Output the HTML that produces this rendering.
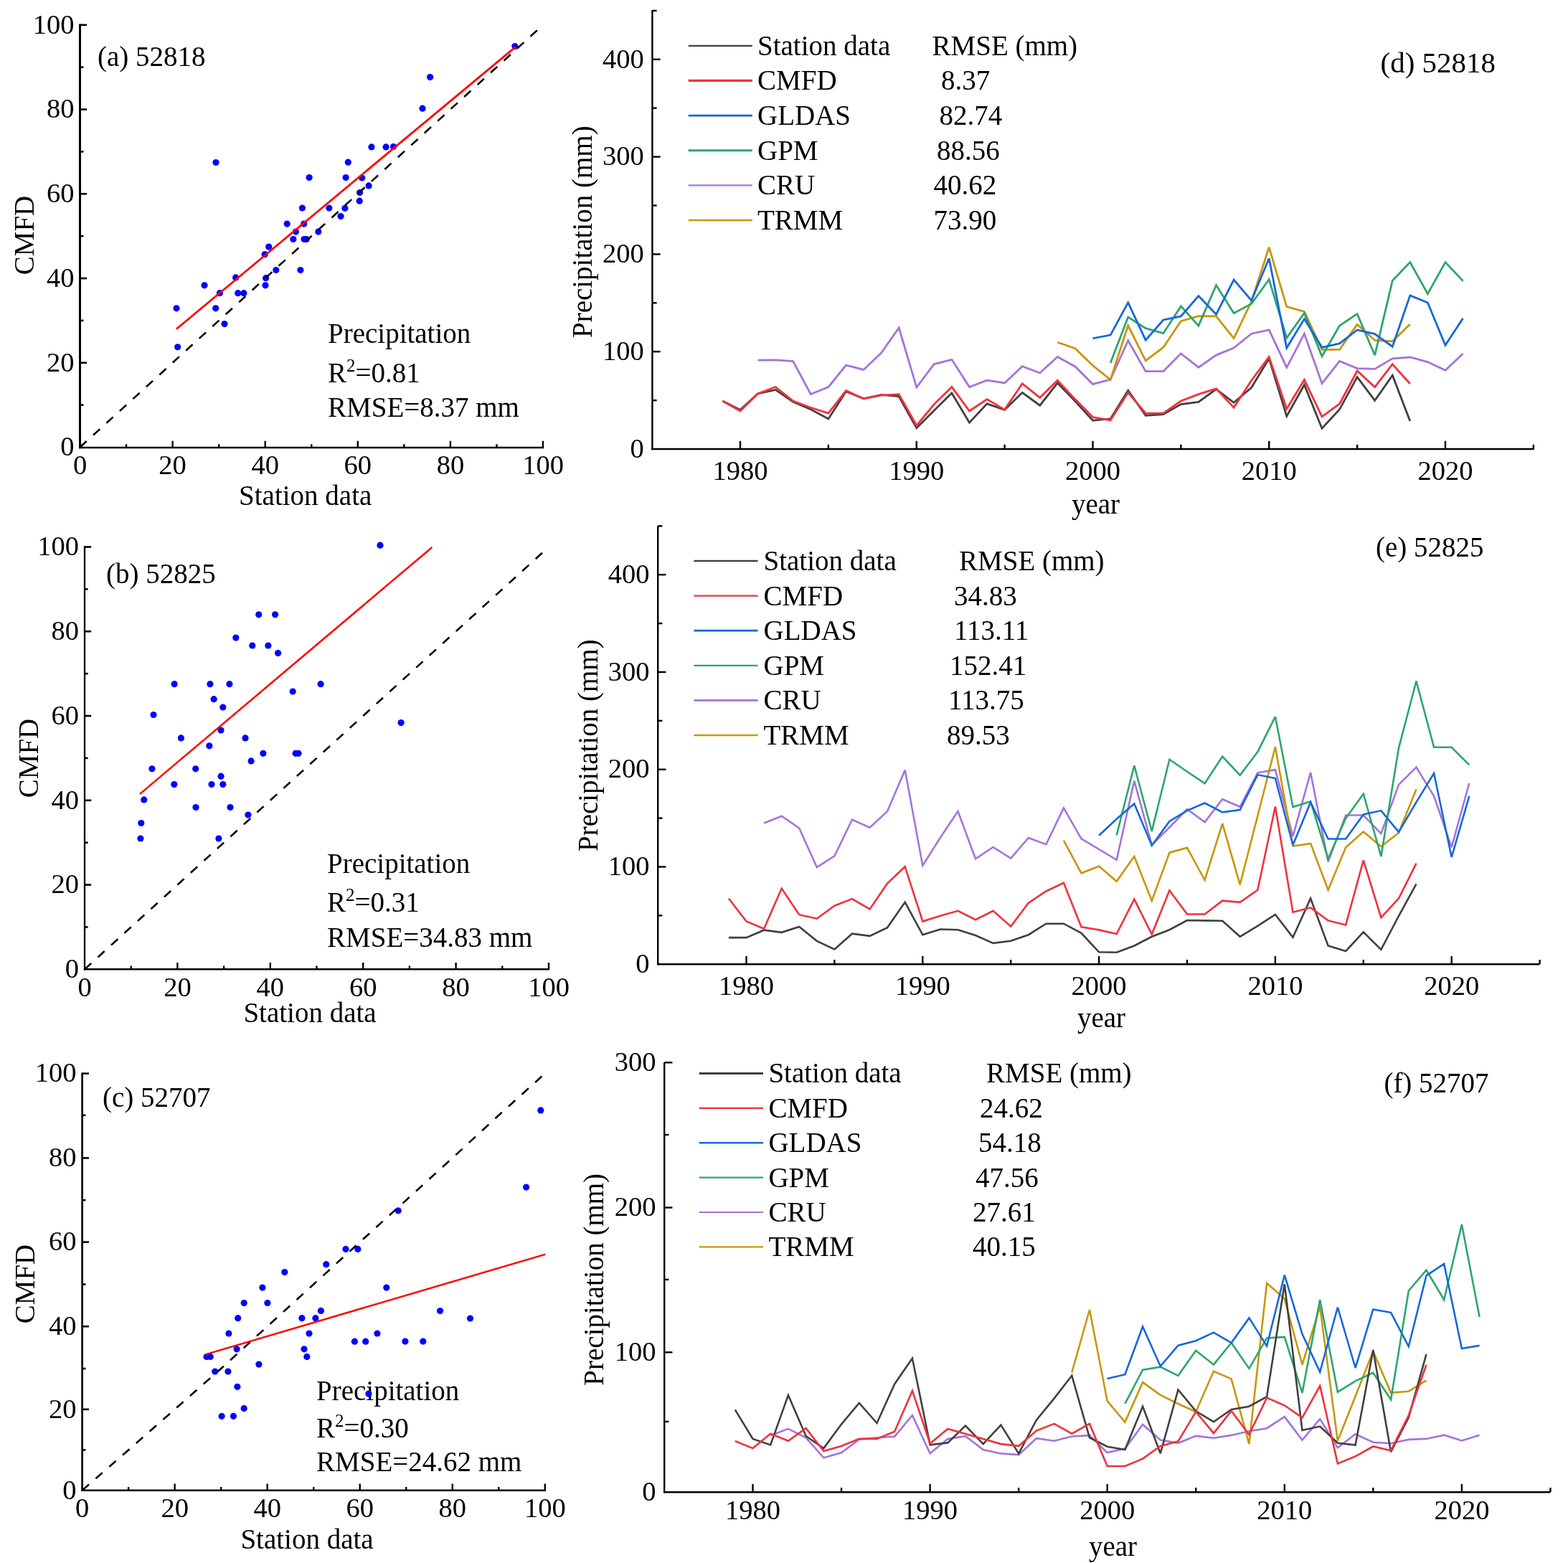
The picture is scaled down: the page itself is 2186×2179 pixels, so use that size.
<!DOCTYPE html>
<html><head><meta charset="utf-8"><title>Precipitation comparison</title>
<style>html,body{margin:0;padding:0;background:#fff;}svg{display:block;}
text{font-family:'Liberation Serif','Times New Roman',serif;fill:#000;}</style></head>
<body><svg xmlns="http://www.w3.org/2000/svg" width="2186" height="2179" viewBox="0 0 2186 2179">
<rect width="2186" height="2179" fill="#fff"/>
<line x1="111.50" y1="33.60" x2="111.50" y2="625.30" stroke="#000" stroke-width="3.0" />
<line x1="110.00" y1="624.00" x2="758.00" y2="624.00" stroke="#000" stroke-width="2.6" />
<line x1="111.50" y1="564.63" x2="116.50" y2="564.63" stroke="#000" stroke-width="2.6" />
<line x1="176.05" y1="624.00" x2="176.05" y2="619.20" stroke="#000" stroke-width="2.4" />
<line x1="111.50" y1="505.76" x2="121.00" y2="505.76" stroke="#000" stroke-width="2.6" />
<line x1="240.60" y1="624.00" x2="240.60" y2="614.70" stroke="#000" stroke-width="2.4" />
<line x1="111.50" y1="446.89" x2="116.50" y2="446.89" stroke="#000" stroke-width="2.6" />
<line x1="305.15" y1="624.00" x2="305.15" y2="619.20" stroke="#000" stroke-width="2.4" />
<line x1="111.50" y1="388.02" x2="121.00" y2="388.02" stroke="#000" stroke-width="2.6" />
<line x1="369.70" y1="624.00" x2="369.70" y2="614.70" stroke="#000" stroke-width="2.4" />
<line x1="111.50" y1="329.15" x2="116.50" y2="329.15" stroke="#000" stroke-width="2.6" />
<line x1="434.25" y1="624.00" x2="434.25" y2="619.20" stroke="#000" stroke-width="2.4" />
<line x1="111.50" y1="270.28" x2="121.00" y2="270.28" stroke="#000" stroke-width="2.6" />
<line x1="498.80" y1="624.00" x2="498.80" y2="614.70" stroke="#000" stroke-width="2.4" />
<line x1="111.50" y1="211.41" x2="116.50" y2="211.41" stroke="#000" stroke-width="2.6" />
<line x1="563.35" y1="624.00" x2="563.35" y2="619.20" stroke="#000" stroke-width="2.4" />
<line x1="111.50" y1="152.54" x2="121.00" y2="152.54" stroke="#000" stroke-width="2.6" />
<line x1="627.90" y1="624.00" x2="627.90" y2="614.70" stroke="#000" stroke-width="2.4" />
<line x1="111.50" y1="93.67" x2="116.50" y2="93.67" stroke="#000" stroke-width="2.6" />
<line x1="692.45" y1="624.00" x2="692.45" y2="619.20" stroke="#000" stroke-width="2.4" />
<line x1="111.50" y1="34.80" x2="121.00" y2="34.80" stroke="#000" stroke-width="2.6" />
<line x1="757.00" y1="624.00" x2="757.00" y2="614.70" stroke="#000" stroke-width="2.4" />
<text x="103.50" y="635.30" font-size="38.5" text-anchor="end" >0</text>
<text x="111.50" y="661.30" font-size="38.5" text-anchor="middle" >0</text>
<text x="103.50" y="517.56" font-size="38.5" text-anchor="end" >20</text>
<text x="240.60" y="661.30" font-size="38.5" text-anchor="middle" >20</text>
<text x="103.50" y="399.82" font-size="38.5" text-anchor="end" >40</text>
<text x="369.70" y="661.30" font-size="38.5" text-anchor="middle" >40</text>
<text x="103.50" y="282.08" font-size="38.5" text-anchor="end" >60</text>
<text x="498.80" y="661.30" font-size="38.5" text-anchor="middle" >60</text>
<text x="103.50" y="164.34" font-size="38.5" text-anchor="end" >80</text>
<text x="627.90" y="661.30" font-size="38.5" text-anchor="middle" >80</text>
<text x="103.50" y="46.60" font-size="38.5" text-anchor="end" >100</text>
<text x="757.00" y="661.30" font-size="38.5" text-anchor="middle" >100</text>
<text x="136.00" y="91.50" font-size="39" text-anchor="start" >(a) 52818</text>
<text x="457.00" y="478.30" font-size="39" text-anchor="start" >Precipitation</text>
<text x="457.00" y="532.70" font-size="39" text-anchor="start" >R<tspan font-size="25" dy="-15">2</tspan><tspan dy="15">=0.81</tspan></text>
<text x="457.00" y="581.20" font-size="39" text-anchor="start" >RMSE=8.37 mm</text>
<text x="425.70" y="703.90" font-size="39" text-anchor="middle" >Station data</text>
<text x="0" y="0" font-size="39" text-anchor="middle" transform="translate(46.5,328) rotate(-90)">CMFD</text>
<circle cx="246.0" cy="429.8" r="4.6" fill="#0000FF"/>
<circle cx="247.7" cy="483.8" r="4.6" fill="#0000FF"/>
<circle cx="285.0" cy="397.8" r="4.6" fill="#0000FF"/>
<circle cx="301.0" cy="226.5" r="4.6" fill="#0000FF"/>
<circle cx="300.7" cy="429.8" r="4.6" fill="#0000FF"/>
<circle cx="306.4" cy="408.7" r="4.6" fill="#0000FF"/>
<circle cx="313.0" cy="451.6" r="4.6" fill="#0000FF"/>
<circle cx="328.6" cy="386.9" r="4.6" fill="#0000FF"/>
<circle cx="331.7" cy="408.7" r="4.6" fill="#0000FF"/>
<circle cx="339.9" cy="408.7" r="4.6" fill="#0000FF"/>
<circle cx="369.1" cy="354.7" r="4.6" fill="#0000FF"/>
<circle cx="370.6" cy="387.7" r="4.6" fill="#0000FF"/>
<circle cx="370.0" cy="397.8" r="4.6" fill="#0000FF"/>
<circle cx="374.7" cy="344.1" r="4.6" fill="#0000FF"/>
<circle cx="384.8" cy="376.5" r="4.6" fill="#0000FF"/>
<circle cx="400.2" cy="312.1" r="4.6" fill="#0000FF"/>
<circle cx="408.9" cy="333.5" r="4.6" fill="#0000FF"/>
<circle cx="412.4" cy="323.1" r="4.6" fill="#0000FF"/>
<circle cx="418.9" cy="376.5" r="4.6" fill="#0000FF"/>
<circle cx="421.4" cy="290.0" r="4.6" fill="#0000FF"/>
<circle cx="423.7" cy="312.1" r="4.6" fill="#0000FF"/>
<circle cx="424.0" cy="333.5" r="4.6" fill="#0000FF"/>
<circle cx="427.2" cy="333.5" r="4.6" fill="#0000FF"/>
<circle cx="431.1" cy="247.5" r="4.6" fill="#0000FF"/>
<circle cx="443.8" cy="323.1" r="4.6" fill="#0000FF"/>
<circle cx="458.8" cy="290.0" r="4.6" fill="#0000FF"/>
<circle cx="475.0" cy="301.6" r="4.6" fill="#0000FF"/>
<circle cx="480.9" cy="290.3" r="4.6" fill="#0000FF"/>
<circle cx="482.1" cy="247.5" r="4.6" fill="#0000FF"/>
<circle cx="485.3" cy="226.2" r="4.6" fill="#0000FF"/>
<circle cx="501.2" cy="280.2" r="4.6" fill="#0000FF"/>
<circle cx="501.6" cy="268.5" r="4.6" fill="#0000FF"/>
<circle cx="504.7" cy="248.0" r="4.6" fill="#0000FF"/>
<circle cx="514.1" cy="258.9" r="4.6" fill="#0000FF"/>
<circle cx="517.9" cy="204.9" r="4.6" fill="#0000FF"/>
<circle cx="538.1" cy="204.9" r="4.6" fill="#0000FF"/>
<circle cx="548.5" cy="204.5" r="4.6" fill="#0000FF"/>
<circle cx="589.0" cy="151.2" r="4.6" fill="#0000FF"/>
<circle cx="599.6" cy="107.6" r="4.6" fill="#0000FF"/>
<circle cx="717.9" cy="64.6" r="4.6" fill="#0000FF"/>
<polyline points="111.50,623.50 176.05,564.63 240.60,505.76 305.15,446.89 369.70,388.02 434.25,329.15 498.80,270.28 563.35,211.41 627.90,152.54 692.45,93.67 757.00,34.80" fill="none" stroke="#000" stroke-width="2.6" stroke-dasharray="12.5 12.5"/>
<line x1="246.00" y1="458.60" x2="718.50" y2="65.60" stroke="#FF0000" stroke-width="2.8" />
<line x1="118.00" y1="761.30" x2="118.00" y2="1352.60" stroke="#000" stroke-width="2.3" />
<line x1="116.85" y1="1351.30" x2="766.00" y2="1351.30" stroke="#000" stroke-width="2.6" />
<line x1="118.00" y1="1292.42" x2="122.65" y2="1292.42" stroke="#000" stroke-width="2.6" />
<line x1="182.70" y1="1351.30" x2="182.70" y2="1346.50" stroke="#000" stroke-width="2.4" />
<line x1="118.00" y1="1233.54" x2="127.15" y2="1233.54" stroke="#000" stroke-width="2.6" />
<line x1="247.40" y1="1351.30" x2="247.40" y2="1342.00" stroke="#000" stroke-width="2.4" />
<line x1="118.00" y1="1174.66" x2="122.65" y2="1174.66" stroke="#000" stroke-width="2.6" />
<line x1="312.10" y1="1351.30" x2="312.10" y2="1346.50" stroke="#000" stroke-width="2.4" />
<line x1="118.00" y1="1115.78" x2="127.15" y2="1115.78" stroke="#000" stroke-width="2.6" />
<line x1="376.80" y1="1351.30" x2="376.80" y2="1342.00" stroke="#000" stroke-width="2.4" />
<line x1="118.00" y1="1056.90" x2="122.65" y2="1056.90" stroke="#000" stroke-width="2.6" />
<line x1="441.50" y1="1351.30" x2="441.50" y2="1346.50" stroke="#000" stroke-width="2.4" />
<line x1="118.00" y1="998.02" x2="127.15" y2="998.02" stroke="#000" stroke-width="2.6" />
<line x1="506.20" y1="1351.30" x2="506.20" y2="1342.00" stroke="#000" stroke-width="2.4" />
<line x1="118.00" y1="939.14" x2="122.65" y2="939.14" stroke="#000" stroke-width="2.6" />
<line x1="570.90" y1="1351.30" x2="570.90" y2="1346.50" stroke="#000" stroke-width="2.4" />
<line x1="118.00" y1="880.26" x2="127.15" y2="880.26" stroke="#000" stroke-width="2.6" />
<line x1="635.60" y1="1351.30" x2="635.60" y2="1342.00" stroke="#000" stroke-width="2.4" />
<line x1="118.00" y1="821.38" x2="122.65" y2="821.38" stroke="#000" stroke-width="2.6" />
<line x1="700.30" y1="1351.30" x2="700.30" y2="1346.50" stroke="#000" stroke-width="2.4" />
<line x1="118.00" y1="762.50" x2="127.15" y2="762.50" stroke="#000" stroke-width="2.6" />
<line x1="765.00" y1="1351.30" x2="765.00" y2="1342.00" stroke="#000" stroke-width="2.4" />
<text x="110.00" y="1363.10" font-size="38.5" text-anchor="end" >0</text>
<text x="118.00" y="1388.50" font-size="38.5" text-anchor="middle" >0</text>
<text x="110.00" y="1245.34" font-size="38.5" text-anchor="end" >20</text>
<text x="247.40" y="1388.50" font-size="38.5" text-anchor="middle" >20</text>
<text x="110.00" y="1127.58" font-size="38.5" text-anchor="end" >40</text>
<text x="376.80" y="1388.50" font-size="38.5" text-anchor="middle" >40</text>
<text x="110.00" y="1009.82" font-size="38.5" text-anchor="end" >60</text>
<text x="506.20" y="1388.50" font-size="38.5" text-anchor="middle" >60</text>
<text x="110.00" y="892.06" font-size="38.5" text-anchor="end" >80</text>
<text x="635.60" y="1388.50" font-size="38.5" text-anchor="middle" >80</text>
<text x="110.00" y="774.30" font-size="38.5" text-anchor="end" >100</text>
<text x="765.00" y="1388.50" font-size="38.5" text-anchor="middle" >100</text>
<text x="148.00" y="813.00" font-size="39" text-anchor="start" >(b) 52825</text>
<text x="456.00" y="1217.00" font-size="39" text-anchor="start" >Precipitation</text>
<text x="456.00" y="1270.80" font-size="39" text-anchor="start" >R<tspan font-size="25" dy="-15">2</tspan><tspan dy="15">=0.31</tspan></text>
<text x="456.00" y="1320.40" font-size="39" text-anchor="start" >RMSE=34.83 mm</text>
<text x="432.00" y="1425.00" font-size="39" text-anchor="middle" >Station data</text>
<text x="0" y="0" font-size="39" text-anchor="middle" transform="translate(52.5,1057) rotate(-90)">CMFD</text>
<circle cx="360.7" cy="856.8" r="4.6" fill="#0000FF"/>
<circle cx="383.6" cy="856.8" r="4.6" fill="#0000FF"/>
<circle cx="328.8" cy="889.1" r="4.6" fill="#0000FF"/>
<circle cx="351.8" cy="900.0" r="4.6" fill="#0000FF"/>
<circle cx="373.9" cy="900.0" r="4.6" fill="#0000FF"/>
<circle cx="387.6" cy="910.6" r="4.6" fill="#0000FF"/>
<circle cx="243.1" cy="953.7" r="4.6" fill="#0000FF"/>
<circle cx="292.9" cy="953.7" r="4.6" fill="#0000FF"/>
<circle cx="319.9" cy="953.7" r="4.6" fill="#0000FF"/>
<circle cx="447.1" cy="953.7" r="4.6" fill="#0000FF"/>
<circle cx="408.2" cy="964.1" r="4.6" fill="#0000FF"/>
<circle cx="298.1" cy="974.7" r="4.6" fill="#0000FF"/>
<circle cx="310.8" cy="986.0" r="4.6" fill="#0000FF"/>
<circle cx="214.0" cy="996.5" r="4.6" fill="#0000FF"/>
<circle cx="308.0" cy="1018.0" r="4.6" fill="#0000FF"/>
<circle cx="252.4" cy="1028.9" r="4.6" fill="#0000FF"/>
<circle cx="342.0" cy="1028.9" r="4.6" fill="#0000FF"/>
<circle cx="291.8" cy="1039.8" r="4.6" fill="#0000FF"/>
<circle cx="366.9" cy="1050.3" r="4.6" fill="#0000FF"/>
<circle cx="412.1" cy="1050.3" r="4.6" fill="#0000FF"/>
<circle cx="416.0" cy="1050.3" r="4.6" fill="#0000FF"/>
<circle cx="350.1" cy="1060.9" r="4.6" fill="#0000FF"/>
<circle cx="211.9" cy="1071.8" r="4.6" fill="#0000FF"/>
<circle cx="272.7" cy="1071.8" r="4.6" fill="#0000FF"/>
<circle cx="308.0" cy="1082.2" r="4.6" fill="#0000FF"/>
<circle cx="242.8" cy="1093.6" r="4.6" fill="#0000FF"/>
<circle cx="295.0" cy="1093.6" r="4.6" fill="#0000FF"/>
<circle cx="310.8" cy="1093.6" r="4.6" fill="#0000FF"/>
<circle cx="200.7" cy="1114.9" r="4.6" fill="#0000FF"/>
<circle cx="273.0" cy="1125.5" r="4.6" fill="#0000FF"/>
<circle cx="321.0" cy="1125.5" r="4.6" fill="#0000FF"/>
<circle cx="345.9" cy="1136.0" r="4.6" fill="#0000FF"/>
<circle cx="196.8" cy="1147.5" r="4.6" fill="#0000FF"/>
<circle cx="195.9" cy="1169.0" r="4.6" fill="#0000FF"/>
<circle cx="304.9" cy="1169.0" r="4.6" fill="#0000FF"/>
<circle cx="530.0" cy="760.2" r="4.6" fill="#0000FF"/>
<circle cx="559.1" cy="1007.6" r="4.6" fill="#0000FF"/>
<polyline points="118.00,1351.30 182.70,1292.42 247.40,1233.54 312.10,1174.66 376.80,1115.78 441.50,1056.90 506.20,998.02 570.90,939.14 635.60,880.26 700.30,821.38 765.00,762.50" fill="none" stroke="#000" stroke-width="2.6" stroke-dasharray="12.5 12.5"/>
<line x1="194.80" y1="1107.10" x2="602.40" y2="763.00" stroke="#FF0000" stroke-width="2.5" />
<line x1="114.60" y1="1495.40" x2="114.60" y2="2079.10" stroke="#000" stroke-width="2.7" />
<line x1="113.25" y1="2077.80" x2="761.00" y2="2077.80" stroke="#000" stroke-width="2.6" />
<line x1="114.60" y1="2021.40" x2="119.45" y2="2021.40" stroke="#000" stroke-width="2.6" />
<line x1="179.12" y1="2077.80" x2="179.12" y2="2073.00" stroke="#000" stroke-width="2.4" />
<line x1="114.60" y1="1964.80" x2="123.95" y2="1964.80" stroke="#000" stroke-width="2.6" />
<line x1="243.64" y1="2077.80" x2="243.64" y2="2068.50" stroke="#000" stroke-width="2.4" />
<line x1="114.60" y1="1908.00" x2="119.45" y2="1908.00" stroke="#000" stroke-width="2.6" />
<line x1="308.16" y1="2077.80" x2="308.16" y2="2073.00" stroke="#000" stroke-width="2.4" />
<line x1="114.60" y1="1849.20" x2="123.95" y2="1849.20" stroke="#000" stroke-width="2.6" />
<line x1="372.68" y1="2077.80" x2="372.68" y2="2068.50" stroke="#000" stroke-width="2.4" />
<line x1="114.60" y1="1790.50" x2="119.45" y2="1790.50" stroke="#000" stroke-width="2.6" />
<line x1="437.20" y1="2077.80" x2="437.20" y2="2073.00" stroke="#000" stroke-width="2.4" />
<line x1="114.60" y1="1731.60" x2="123.95" y2="1731.60" stroke="#000" stroke-width="2.6" />
<line x1="501.72" y1="2077.80" x2="501.72" y2="2068.50" stroke="#000" stroke-width="2.4" />
<line x1="114.60" y1="1673.10" x2="119.45" y2="1673.10" stroke="#000" stroke-width="2.6" />
<line x1="566.24" y1="2077.80" x2="566.24" y2="2073.00" stroke="#000" stroke-width="2.4" />
<line x1="114.60" y1="1614.40" x2="123.95" y2="1614.40" stroke="#000" stroke-width="2.6" />
<line x1="630.76" y1="2077.80" x2="630.76" y2="2068.50" stroke="#000" stroke-width="2.4" />
<line x1="114.60" y1="1554.80" x2="119.45" y2="1554.80" stroke="#000" stroke-width="2.6" />
<line x1="695.28" y1="2077.80" x2="695.28" y2="2073.00" stroke="#000" stroke-width="2.4" />
<line x1="114.60" y1="1496.60" x2="123.95" y2="1496.60" stroke="#000" stroke-width="2.6" />
<line x1="759.80" y1="2077.80" x2="759.80" y2="2068.50" stroke="#000" stroke-width="2.4" />
<text x="106.50" y="2089.60" font-size="38.5" text-anchor="end" >0</text>
<text x="114.60" y="2114.50" font-size="38.5" text-anchor="middle" >0</text>
<text x="106.50" y="1976.60" font-size="38.5" text-anchor="end" >20</text>
<text x="243.64" y="2114.50" font-size="38.5" text-anchor="middle" >20</text>
<text x="106.50" y="1861.00" font-size="38.5" text-anchor="end" >40</text>
<text x="372.68" y="2114.50" font-size="38.5" text-anchor="middle" >40</text>
<text x="106.50" y="1743.40" font-size="38.5" text-anchor="end" >60</text>
<text x="501.72" y="2114.50" font-size="38.5" text-anchor="middle" >60</text>
<text x="106.50" y="1626.20" font-size="38.5" text-anchor="end" >80</text>
<text x="630.76" y="2114.50" font-size="38.5" text-anchor="middle" >80</text>
<text x="106.50" y="1508.40" font-size="38.5" text-anchor="end" >100</text>
<text x="759.80" y="2114.50" font-size="38.5" text-anchor="middle" >100</text>
<text x="143.00" y="1543.00" font-size="39" text-anchor="start" >(c) 52707</text>
<text x="441.00" y="1952.00" font-size="39" text-anchor="start" >Precipitation</text>
<text x="441.00" y="2003.80" font-size="39" text-anchor="start" >R<tspan font-size="25" dy="-15">2</tspan><tspan dy="15">=0.30</tspan></text>
<text x="441.00" y="2051.30" font-size="39" text-anchor="start" >RMSE=24.62 mm</text>
<text x="428.00" y="2158.50" font-size="39" text-anchor="middle" >Station data</text>
<text x="0" y="0" font-size="39" text-anchor="middle" transform="translate(48.4,1790) rotate(-90)">CMFD</text>
<circle cx="482.0" cy="1741.4" r="4.6" fill="#0000FF"/>
<circle cx="498.8" cy="1741.4" r="4.6" fill="#0000FF"/>
<circle cx="454.7" cy="1762.7" r="4.6" fill="#0000FF"/>
<circle cx="396.8" cy="1773.6" r="4.6" fill="#0000FF"/>
<circle cx="365.9" cy="1795.1" r="4.6" fill="#0000FF"/>
<circle cx="538.8" cy="1795.1" r="4.6" fill="#0000FF"/>
<circle cx="340.2" cy="1816.5" r="4.6" fill="#0000FF"/>
<circle cx="372.9" cy="1816.5" r="4.6" fill="#0000FF"/>
<circle cx="447.4" cy="1827.4" r="4.6" fill="#0000FF"/>
<circle cx="331.7" cy="1837.7" r="4.6" fill="#0000FF"/>
<circle cx="420.9" cy="1837.7" r="4.6" fill="#0000FF"/>
<circle cx="439.9" cy="1837.7" r="4.6" fill="#0000FF"/>
<circle cx="318.9" cy="1859.0" r="4.6" fill="#0000FF"/>
<circle cx="431.0" cy="1859.0" r="4.6" fill="#0000FF"/>
<circle cx="525.9" cy="1859.0" r="4.6" fill="#0000FF"/>
<circle cx="494.4" cy="1870.2" r="4.6" fill="#0000FF"/>
<circle cx="509.7" cy="1870.2" r="4.6" fill="#0000FF"/>
<circle cx="330.1" cy="1880.8" r="4.6" fill="#0000FF"/>
<circle cx="424.0" cy="1880.8" r="4.6" fill="#0000FF"/>
<circle cx="288.0" cy="1891.4" r="4.6" fill="#0000FF"/>
<circle cx="293.2" cy="1891.4" r="4.6" fill="#0000FF"/>
<circle cx="427.9" cy="1891.4" r="4.6" fill="#0000FF"/>
<circle cx="360.9" cy="1902.1" r="4.6" fill="#0000FF"/>
<circle cx="299.7" cy="1912.0" r="4.6" fill="#0000FF"/>
<circle cx="317.9" cy="1912.0" r="4.6" fill="#0000FF"/>
<circle cx="330.9" cy="1933.3" r="4.6" fill="#0000FF"/>
<circle cx="513.9" cy="1943.1" r="4.6" fill="#0000FF"/>
<circle cx="340.2" cy="1963.4" r="4.6" fill="#0000FF"/>
<circle cx="309.1" cy="1974.3" r="4.6" fill="#0000FF"/>
<circle cx="325.4" cy="1974.3" r="4.6" fill="#0000FF"/>
<circle cx="753.8" cy="1547.9" r="4.6" fill="#0000FF"/>
<circle cx="733.6" cy="1655.1" r="4.6" fill="#0000FF"/>
<circle cx="555.2" cy="1687.8" r="4.6" fill="#0000FF"/>
<circle cx="613.5" cy="1827.6" r="4.6" fill="#0000FF"/>
<circle cx="655.5" cy="1838.0" r="4.6" fill="#0000FF"/>
<circle cx="564.9" cy="1870.1" r="4.6" fill="#0000FF"/>
<circle cx="589.8" cy="1870.1" r="4.6" fill="#0000FF"/>
<polyline points="114.60,2077.80 179.12,2021.40 243.64,1964.80 308.16,1908.00 372.68,1849.20 437.20,1790.50 501.72,1731.60 566.24,1673.10 630.76,1614.40 695.28,1554.80 759.80,1496.60" fill="none" stroke="#000" stroke-width="2.6" stroke-dasharray="12.5 12.5"/>
<line x1="286.20" y1="1888.40" x2="760.40" y2="1748.60" stroke="#FF0000" stroke-width="2.5" />
<line x1="909.40" y1="14.30" x2="909.40" y2="627.15" stroke="#000" stroke-width="2.4" />
<line x1="908.20" y1="626.00" x2="2138.60" y2="626.00" stroke="#000" stroke-width="2.4" />
<text x="897.80" y="637.70" font-size="38.5" text-anchor="end" >0</text>
<line x1="909.40" y1="558.10" x2="915.60" y2="558.10" stroke="#000" stroke-width="2.4" />
<line x1="909.40" y1="490.20" x2="920.60" y2="490.20" stroke="#000" stroke-width="2.4" />
<text x="897.80" y="501.90" font-size="38.5" text-anchor="end" >100</text>
<line x1="909.40" y1="422.30" x2="915.60" y2="422.30" stroke="#000" stroke-width="2.4" />
<line x1="909.40" y1="354.40" x2="920.60" y2="354.40" stroke="#000" stroke-width="2.4" />
<text x="897.80" y="366.10" font-size="38.5" text-anchor="end" >200</text>
<line x1="909.40" y1="286.50" x2="915.60" y2="286.50" stroke="#000" stroke-width="2.4" />
<line x1="909.40" y1="218.60" x2="920.60" y2="218.60" stroke="#000" stroke-width="2.4" />
<text x="897.80" y="230.30" font-size="38.5" text-anchor="end" >300</text>
<line x1="909.40" y1="150.70" x2="915.60" y2="150.70" stroke="#000" stroke-width="2.4" />
<line x1="909.40" y1="82.80" x2="920.60" y2="82.80" stroke="#000" stroke-width="2.4" />
<text x="897.80" y="94.50" font-size="38.5" text-anchor="end" >400</text>
<line x1="909.40" y1="14.90" x2="915.60" y2="14.90" stroke="#000" stroke-width="2.4" />
<line x1="1032.00" y1="626.00" x2="1032.00" y2="614.80" stroke="#000" stroke-width="2.4" />
<text x="1032.00" y="669.00" font-size="38.5" text-anchor="middle" >1980</text>
<line x1="1154.88" y1="626.00" x2="1154.88" y2="619.80" stroke="#000" stroke-width="2.4" />
<line x1="1277.75" y1="626.00" x2="1277.75" y2="614.80" stroke="#000" stroke-width="2.4" />
<text x="1277.75" y="669.00" font-size="38.5" text-anchor="middle" >1990</text>
<line x1="1400.62" y1="626.00" x2="1400.62" y2="619.80" stroke="#000" stroke-width="2.4" />
<line x1="1523.50" y1="626.00" x2="1523.50" y2="614.80" stroke="#000" stroke-width="2.4" />
<text x="1523.50" y="669.00" font-size="38.5" text-anchor="middle" >2000</text>
<line x1="1646.38" y1="626.00" x2="1646.38" y2="619.80" stroke="#000" stroke-width="2.4" />
<line x1="1769.25" y1="626.00" x2="1769.25" y2="614.80" stroke="#000" stroke-width="2.4" />
<text x="1769.25" y="669.00" font-size="38.5" text-anchor="middle" >2010</text>
<line x1="1892.12" y1="626.00" x2="1892.12" y2="619.80" stroke="#000" stroke-width="2.4" />
<line x1="2015.00" y1="626.00" x2="2015.00" y2="614.80" stroke="#000" stroke-width="2.4" />
<text x="2015.00" y="669.00" font-size="38.5" text-anchor="middle" >2020</text>
<line x1="2137.88" y1="626.00" x2="2137.88" y2="619.80" stroke="#000" stroke-width="2.4" />
<polyline points="1056.6,502.1 1081.2,501.8 1105.7,503.7 1130.3,549.6 1154.9,539.5 1179.5,509.1 1204.0,515.4 1228.6,492.0 1253.2,457.0 1277.8,540.0 1302.3,507.6 1326.9,501.3 1351.5,539.5 1376.0,530.2 1400.6,534.0 1425.2,510.7 1449.8,520.0 1474.3,497.4 1498.9,511.0 1523.5,535.6 1548.1,529.1 1572.7,474.9 1597.2,517.7 1621.8,517.7 1646.4,492.8 1670.9,512.2 1695.5,495.1 1720.1,485.0 1744.7,465.2 1769.2,459.8 1793.8,512.4 1818.4,465.2 1843.0,534.6 1867.5,503.5 1892.1,513.6 1916.7,514.4 1941.3,499.9 1965.8,498.0 1990.4,504.6 2015.0,516.3 2039.6,492.9" fill="none" stroke="#A474D8" stroke-width="2.8" stroke-linejoin="miter" stroke-miterlimit="3"/>
<polyline points="1474.3,477.2 1498.9,485.8 1523.5,509.5 1548.1,529.4 1572.7,453.8 1597.2,502.9 1621.8,484.2 1646.4,447.6 1670.9,440.6 1695.5,440.9 1720.1,471.7 1744.7,420.3 1769.2,344.7 1793.8,427.5 1818.4,434.5 1843.0,487.4 1867.5,487.4 1892.1,452.1 1916.7,474.5 1941.3,475.8 1965.8,452.1" fill="none" stroke="#C8960A" stroke-width="2.8" stroke-linejoin="miter" stroke-miterlimit="3"/>
<polyline points="1548.1,506.0 1572.7,442.1 1597.2,457.7 1621.8,464.7 1646.4,426.9 1670.9,454.1 1695.5,397.4 1720.1,436.7 1744.7,423.5 1769.2,389.5 1793.8,471.1 1818.4,436.5 1843.0,496.8 1867.5,454.0 1892.1,437.6 1916.7,495.2 1941.3,391.3 1965.8,365.5 1990.4,409.6 2015.0,365.5 2039.6,391.7" fill="none" stroke="#2CA66C" stroke-width="2.8" stroke-linejoin="miter" stroke-miterlimit="3"/>
<polyline points="1523.5,471.7 1548.1,467.1 1572.7,421.9 1597.2,474.1 1621.8,446.0 1646.4,440.9 1670.9,412.6 1695.5,438.3 1720.1,390.0 1744.7,418.8 1769.2,360.3 1793.8,485.1 1818.4,444.6 1843.0,484.3 1867.5,478.9 1892.1,459.9 1916.7,465.6 1941.3,483.2 1965.8,411.9 1990.4,422.0 2015.0,481.2 2039.6,443.8" fill="none" stroke="#1667DC" stroke-width="2.8" stroke-linejoin="miter" stroke-miterlimit="3"/>
<polyline points="1007.4,559.0 1032.0,571.4 1056.6,548.8 1081.2,543.4 1105.7,560.2 1130.3,570.7 1154.9,583.9 1179.5,545.7 1204.0,555.9 1228.6,550.4 1253.2,552.7 1277.8,596.8 1302.3,572.2 1326.9,548.1 1351.5,589.3 1376.0,562.9 1400.6,571.4 1425.2,547.3 1449.8,565.2 1474.3,534.0 1498.9,559.4 1523.5,586.2 1548.1,583.9 1572.7,544.2 1597.2,579.2 1621.8,577.7 1646.4,563.6 1670.9,560.5 1695.5,542.6 1720.1,561.3 1744.7,540.3 1769.2,499.8 1793.8,580.1 1818.4,536.5 1843.0,597.3 1867.5,570.8 1892.1,525.6 1916.7,558.3 1941.3,523.3 1965.8,587.1" fill="none" stroke="#404040" stroke-width="2.8" stroke-linejoin="miter" stroke-miterlimit="3"/>
<polyline points="1007.4,559.0 1032.0,573.0 1056.6,548.8 1081.2,539.5 1105.7,559.0 1130.3,568.3 1154.9,576.1 1179.5,544.6 1204.0,555.9 1228.6,551.2 1253.2,549.6 1277.8,593.2 1302.3,563.6 1326.9,539.5 1351.5,573.0 1376.0,556.6 1400.6,571.1 1425.2,534.8 1449.8,554.3 1474.3,530.2 1498.9,556.6 1523.5,581.6 1548.1,586.0 1572.7,547.3 1597.2,576.1 1621.8,576.1 1646.4,559.0 1670.9,549.6 1695.5,541.8 1720.1,568.3 1744.7,530.2 1769.2,497.5 1793.8,570.0 1818.4,529.5 1843.0,580.9 1867.5,563.0 1892.1,517.0 1916.7,539.6 1941.3,507.7 1965.8,535.0" fill="none" stroke="#F0323C" stroke-width="2.8" stroke-linejoin="miter" stroke-miterlimit="3"/>
<line x1="959.70" y1="63.80" x2="1048.80" y2="63.80" stroke="#404040" stroke-width="2.3" />
<text x="1056.00" y="76.80" font-size="39" text-anchor="start" >Station data</text>
<text x="1299.50" y="76.80" font-size="39" text-anchor="start" >RMSE (mm)</text>
<line x1="959.70" y1="112.45" x2="1048.80" y2="112.45" stroke="#F0323C" stroke-width="3.2" />
<text x="1056.00" y="125.45" font-size="39" text-anchor="start" >CMFD</text>
<text x="1312.00" y="125.45" font-size="39" text-anchor="start" >8.37</text>
<line x1="959.70" y1="161.10" x2="1048.80" y2="161.10" stroke="#1667DC" stroke-width="2.6" />
<text x="1056.00" y="174.10" font-size="39" text-anchor="start" >GLDAS</text>
<text x="1309.50" y="174.10" font-size="39" text-anchor="start" >82.74</text>
<line x1="959.70" y1="209.75" x2="1048.80" y2="209.75" stroke="#2CA66C" stroke-width="2.8" />
<text x="1056.00" y="222.75" font-size="39" text-anchor="start" >GPM</text>
<text x="1306.00" y="222.75" font-size="39" text-anchor="start" >88.56</text>
<line x1="959.70" y1="258.40" x2="1048.80" y2="258.40" stroke="#A474D8" stroke-width="2.3" />
<text x="1056.00" y="271.40" font-size="39" text-anchor="start" >CRU</text>
<text x="1301.50" y="271.40" font-size="39" text-anchor="start" >40.62</text>
<line x1="959.70" y1="307.05" x2="1048.80" y2="307.05" stroke="#C8960A" stroke-width="2.6" />
<text x="1056.00" y="320.05" font-size="39" text-anchor="start" >TRMM</text>
<text x="1301.50" y="320.05" font-size="39" text-anchor="start" >73.90</text>
<text x="1924.50" y="100.70" font-size="41" text-anchor="start" >(d) 52818</text>
<line x1="917.20" y1="733.20" x2="917.20" y2="1345.35" stroke="#000" stroke-width="2.4" />
<line x1="916.00" y1="1344.20" x2="2146.50" y2="1344.20" stroke="#000" stroke-width="2.4" />
<text x="905.50" y="1355.90" font-size="38.5" text-anchor="end" >0</text>
<line x1="917.20" y1="1276.33" x2="923.40" y2="1276.33" stroke="#000" stroke-width="2.4" />
<line x1="917.20" y1="1208.45" x2="928.40" y2="1208.45" stroke="#000" stroke-width="2.4" />
<text x="905.50" y="1220.15" font-size="38.5" text-anchor="end" >100</text>
<line x1="917.20" y1="1140.58" x2="923.40" y2="1140.58" stroke="#000" stroke-width="2.4" />
<line x1="917.20" y1="1072.70" x2="928.40" y2="1072.70" stroke="#000" stroke-width="2.4" />
<text x="905.50" y="1084.40" font-size="38.5" text-anchor="end" >200</text>
<line x1="917.20" y1="1004.83" x2="923.40" y2="1004.83" stroke="#000" stroke-width="2.4" />
<line x1="917.20" y1="936.95" x2="928.40" y2="936.95" stroke="#000" stroke-width="2.4" />
<text x="905.50" y="948.65" font-size="38.5" text-anchor="end" >300</text>
<line x1="917.20" y1="869.08" x2="923.40" y2="869.08" stroke="#000" stroke-width="2.4" />
<line x1="917.20" y1="801.20" x2="928.40" y2="801.20" stroke="#000" stroke-width="2.4" />
<text x="905.50" y="812.90" font-size="38.5" text-anchor="end" >400</text>
<line x1="917.20" y1="733.33" x2="923.40" y2="733.33" stroke="#000" stroke-width="2.4" />
<line x1="1040.50" y1="1344.20" x2="1040.50" y2="1333.00" stroke="#000" stroke-width="2.4" />
<text x="1040.50" y="1387.00" font-size="38.5" text-anchor="middle" >1980</text>
<line x1="1163.40" y1="1344.20" x2="1163.40" y2="1338.00" stroke="#000" stroke-width="2.4" />
<line x1="1286.30" y1="1344.20" x2="1286.30" y2="1333.00" stroke="#000" stroke-width="2.4" />
<text x="1286.30" y="1387.00" font-size="38.5" text-anchor="middle" >1990</text>
<line x1="1409.20" y1="1344.20" x2="1409.20" y2="1338.00" stroke="#000" stroke-width="2.4" />
<line x1="1532.10" y1="1344.20" x2="1532.10" y2="1333.00" stroke="#000" stroke-width="2.4" />
<text x="1532.10" y="1387.00" font-size="38.5" text-anchor="middle" >2000</text>
<line x1="1655.00" y1="1344.20" x2="1655.00" y2="1338.00" stroke="#000" stroke-width="2.4" />
<line x1="1777.90" y1="1344.20" x2="1777.90" y2="1333.00" stroke="#000" stroke-width="2.4" />
<text x="1777.90" y="1387.00" font-size="38.5" text-anchor="middle" >2010</text>
<line x1="1900.80" y1="1344.20" x2="1900.80" y2="1338.00" stroke="#000" stroke-width="2.4" />
<line x1="2023.70" y1="1344.20" x2="2023.70" y2="1333.00" stroke="#000" stroke-width="2.4" />
<text x="2023.70" y="1387.00" font-size="38.5" text-anchor="middle" >2020</text>
<line x1="2146.60" y1="1344.20" x2="2146.60" y2="1338.00" stroke="#000" stroke-width="2.4" />
<polyline points="1065.1,1147.5 1089.7,1137.8 1114.2,1154.5 1138.8,1209.0 1163.4,1193.4 1188.0,1142.8 1212.6,1153.7 1237.1,1131.1 1261.7,1073.5 1286.3,1206.7 1310.9,1167.7 1335.5,1131.1 1360.0,1197.3 1384.6,1181.0 1409.2,1196.5 1433.8,1168.0 1458.4,1177.1 1482.9,1126.4 1507.5,1169.3 1532.1,1184.0 1556.7,1198.8 1581.3,1088.6 1605.8,1178.0 1630.4,1153.5 1655.0,1128.0 1679.6,1146.1 1704.2,1114.2 1728.7,1124.8 1753.3,1077.3 1777.9,1073.1 1802.5,1165.8 1827.1,1076.9 1851.6,1201.4 1876.2,1136.5 1900.8,1136.5 1925.4,1162.1 1950.0,1093.9 1974.5,1069.5 1999.1,1109.9 2023.7,1181.2 2048.3,1091.8" fill="none" stroke="#A474D8" stroke-width="2.6" stroke-linejoin="miter" stroke-miterlimit="3"/>
<polyline points="1482.9,1171.6 1507.5,1217.3 1532.1,1207.6 1556.7,1228.8 1581.3,1194.0 1605.8,1255.7 1630.4,1188.7 1655.0,1181.9 1679.6,1227.0 1704.2,1148.2 1728.7,1233.4 1753.3,1137.6 1777.9,1041.2 1802.5,1179.5 1827.1,1175.9 1851.6,1240.8 1876.2,1181.2 1900.8,1159.5 1925.4,1180.2 1950.0,1161.0 1974.5,1100.3" fill="none" stroke="#C8960A" stroke-width="2.6" stroke-linejoin="miter" stroke-miterlimit="3"/>
<polyline points="1556.7,1164.4 1581.3,1067.3 1605.8,1158.9 1630.4,1058.8 1655.0,1075.8 1679.6,1092.2 1704.2,1054.5 1728.7,1080.7 1753.3,1048.2 1777.9,999.2 1802.5,1125.1 1827.1,1117.4 1851.6,1197.2 1876.2,1140.8 1900.8,1106.7 1925.4,1194.0 1950.0,1042.8 1974.5,949.6 1999.1,1041.8 2023.7,1041.8 2048.3,1066.3" fill="none" stroke="#2CA66C" stroke-width="2.6" stroke-linejoin="miter" stroke-miterlimit="3"/>
<polyline points="1532.1,1164.7 1556.7,1141.8 1581.3,1120.5 1605.8,1178.7 1630.4,1145.0 1655.0,1130.1 1679.6,1119.5 1704.2,1132.3 1728.7,1129.1 1753.3,1080.1 1777.9,1085.0 1802.5,1178.0 1827.1,1118.4 1851.6,1169.5 1876.2,1169.5 1900.8,1135.5 1925.4,1130.1 1950.0,1159.9 1974.5,1118.4 1999.1,1078.0 2023.7,1195.1 2048.3,1109.9" fill="none" stroke="#1667DC" stroke-width="2.6" stroke-linejoin="miter" stroke-miterlimit="3"/>
<polyline points="1015.9,1307.1 1040.5,1307.1 1065.1,1296.7 1089.7,1299.8 1114.2,1292.0 1138.8,1311.8 1163.4,1323.5 1188.0,1301.7 1212.6,1304.8 1237.1,1293.1 1261.7,1257.8 1286.3,1303.2 1310.9,1295.5 1335.5,1296.2 1360.0,1304.0 1384.6,1314.9 1409.2,1311.8 1433.8,1303.2 1458.4,1287.7 1482.9,1287.7 1507.5,1300.9 1532.1,1327.3 1556.7,1327.8 1581.3,1318.5 1605.8,1305.8 1630.4,1296.2 1655.0,1283.0 1679.6,1283.4 1704.2,1283.8 1728.7,1305.8 1753.3,1290.9 1777.9,1274.9 1802.5,1306.8 1827.1,1252.5 1851.6,1318.5 1876.2,1326.0 1900.8,1299.4 1925.4,1323.9 1950.0,1277.0 1974.5,1232.3" fill="none" stroke="#404040" stroke-width="2.6" stroke-linejoin="miter" stroke-miterlimit="3"/>
<polyline points="1015.9,1252.6 1040.5,1284.5 1065.1,1294.7 1089.7,1238.6 1114.2,1275.2 1138.8,1280.7 1163.4,1262.7 1188.0,1253.1 1212.6,1267.4 1237.1,1231.6 1261.7,1208.2 1286.3,1284.5 1310.9,1276.8 1335.5,1269.8 1360.0,1282.2 1384.6,1269.8 1409.2,1291.6 1433.8,1258.8 1458.4,1242.5 1482.9,1230.8 1507.5,1292.3 1532.1,1296.4 1556.7,1302.0 1581.3,1253.6 1605.8,1302.6 1630.4,1241.3 1655.0,1274.5 1679.6,1274.5 1704.2,1255.7 1728.7,1257.9 1753.3,1240.8 1777.9,1124.5 1802.5,1271.7 1827.1,1265.3 1851.6,1283.4 1876.2,1289.4 1900.8,1199.3 1925.4,1279.2 1950.0,1252.5 1974.5,1203.6" fill="none" stroke="#F0323C" stroke-width="2.6" stroke-linejoin="miter" stroke-miterlimit="3"/>
<line x1="967.40" y1="782.00" x2="1056.50" y2="782.00" stroke="#404040" stroke-width="2.4" />
<text x="1064.50" y="795.00" font-size="39" text-anchor="start" >Station data</text>
<text x="1337.00" y="795.00" font-size="39" text-anchor="start" >RMSE (mm)</text>
<line x1="967.40" y1="830.60" x2="1056.50" y2="830.60" stroke="#F0323C" stroke-width="2.3" />
<text x="1064.50" y="843.60" font-size="39" text-anchor="start" >CMFD</text>
<text x="1330.00" y="843.60" font-size="39" text-anchor="start" >34.83</text>
<line x1="967.40" y1="879.20" x2="1056.50" y2="879.20" stroke="#1667DC" stroke-width="2.8" />
<text x="1064.50" y="892.20" font-size="39" text-anchor="start" >GLDAS</text>
<text x="1330.00" y="892.20" font-size="39" text-anchor="start" >113.11</text>
<line x1="967.40" y1="927.80" x2="1056.50" y2="927.80" stroke="#2CA66C" stroke-width="2.3" />
<text x="1064.50" y="940.80" font-size="39" text-anchor="start" >GPM</text>
<text x="1324.00" y="940.80" font-size="39" text-anchor="start" >152.41</text>
<line x1="967.40" y1="976.40" x2="1056.50" y2="976.40" stroke="#A474D8" stroke-width="2.8" />
<text x="1064.50" y="989.40" font-size="39" text-anchor="start" >CRU</text>
<text x="1322.00" y="989.40" font-size="39" text-anchor="start" >113.75</text>
<line x1="967.40" y1="1025.00" x2="1056.50" y2="1025.00" stroke="#C8960A" stroke-width="2.4" />
<text x="1064.50" y="1038.00" font-size="39" text-anchor="start" >TRMM</text>
<text x="1320.00" y="1038.00" font-size="39" text-anchor="start" >89.53</text>
<text x="1918.00" y="775.50" font-size="39" text-anchor="start" >(e) 52825</text>
<line x1="926.20" y1="1481.30" x2="926.20" y2="2081.35" stroke="#000" stroke-width="2.4" />
<line x1="925.00" y1="2080.20" x2="2161.20" y2="2080.20" stroke="#000" stroke-width="2.4" />
<text x="914.50" y="2091.90" font-size="38.5" text-anchor="end" >0</text>
<line x1="926.20" y1="1981.90" x2="932.40" y2="1981.90" stroke="#000" stroke-width="2.4" />
<line x1="926.20" y1="1885.30" x2="937.40" y2="1885.30" stroke="#000" stroke-width="2.4" />
<text x="914.50" y="1897.00" font-size="38.5" text-anchor="end" >100</text>
<line x1="926.20" y1="1783.90" x2="932.40" y2="1783.90" stroke="#000" stroke-width="2.4" />
<line x1="926.20" y1="1683.50" x2="937.40" y2="1683.50" stroke="#000" stroke-width="2.4" />
<text x="914.50" y="1695.20" font-size="38.5" text-anchor="end" >200</text>
<line x1="926.20" y1="1582.00" x2="932.40" y2="1582.00" stroke="#000" stroke-width="2.4" />
<line x1="926.20" y1="1481.30" x2="937.40" y2="1481.30" stroke="#000" stroke-width="2.4" />
<text x="914.50" y="1493.00" font-size="38.5" text-anchor="end" >300</text>
<line x1="1049.50" y1="2080.20" x2="1049.50" y2="2069.00" stroke="#000" stroke-width="2.4" />
<text x="1049.50" y="2118.00" font-size="38.5" text-anchor="middle" >1980</text>
<line x1="1173.05" y1="2080.20" x2="1173.05" y2="2074.00" stroke="#000" stroke-width="2.4" />
<line x1="1296.60" y1="2080.20" x2="1296.60" y2="2069.00" stroke="#000" stroke-width="2.4" />
<text x="1296.60" y="2118.00" font-size="38.5" text-anchor="middle" >1990</text>
<line x1="1420.15" y1="2080.20" x2="1420.15" y2="2074.00" stroke="#000" stroke-width="2.4" />
<line x1="1543.70" y1="2080.20" x2="1543.70" y2="2069.00" stroke="#000" stroke-width="2.4" />
<text x="1543.70" y="2118.00" font-size="38.5" text-anchor="middle" >2000</text>
<line x1="1667.25" y1="2080.20" x2="1667.25" y2="2074.00" stroke="#000" stroke-width="2.4" />
<line x1="1790.80" y1="2080.20" x2="1790.80" y2="2069.00" stroke="#000" stroke-width="2.4" />
<text x="1790.80" y="2118.00" font-size="38.5" text-anchor="middle" >2010</text>
<line x1="1914.35" y1="2080.20" x2="1914.35" y2="2074.00" stroke="#000" stroke-width="2.4" />
<line x1="2037.90" y1="2080.20" x2="2037.90" y2="2069.00" stroke="#000" stroke-width="2.4" />
<text x="2037.90" y="2118.00" font-size="38.5" text-anchor="middle" >2020</text>
<line x1="2161.45" y1="2080.20" x2="2161.45" y2="2074.00" stroke="#000" stroke-width="2.4" />
<polyline points="1074.2,2001.2 1098.9,1991.8 1123.6,2004.3 1148.3,2032.3 1173.0,2025.3 1197.8,2006.6 1222.5,2004.3 1247.2,2002.7 1271.9,1973.1 1296.6,2026.2 1321.3,2006.1 1346.0,2002.2 1370.7,2021.1 1395.4,2026.4 1420.2,2028.1 1444.9,2005.2 1469.6,2008.7 1494.3,2002.5 1519.0,2001.1 1543.7,2025.1 1568.4,2019.5 1593.1,1986.0 1617.8,2007.5 1642.5,2011.8 1667.2,2001.9 1692.0,2004.7 1716.7,2000.9 1741.4,1995.3 1766.1,1991.2 1790.8,1975.1 1815.5,2007.6 1840.2,1978.1 1864.9,2018.4 1889.6,1999.2 1914.3,2010.7 1939.1,2012.3 1963.8,2006.9 1988.5,2005.9 2013.2,2000.7 2037.9,2008.4 2062.6,2000.7" fill="none" stroke="#A474D8" stroke-width="2.6" stroke-linejoin="miter" stroke-miterlimit="3"/>
<polyline points="1494.3,1913.4 1519.0,1826.0 1543.7,1953.2 1568.4,1982.6 1593.1,1927.1 1617.8,1944.9 1642.5,1957.0 1667.2,1968.2 1692.0,1911.6 1716.7,1922.4 1741.4,2013.1 1766.1,1788.8 1790.8,1810.6 1815.5,1902.5 1840.2,1821.6 1864.9,2008.8 1889.6,1946.4 1914.3,1884.0 1939.1,1941.6 1963.8,1939.7 1988.5,1924.3" fill="none" stroke="#C8960A" stroke-width="2.6" stroke-linejoin="miter" stroke-miterlimit="3"/>
<polyline points="1568.4,1956.8 1593.1,1909.7 1617.8,1905.6 1642.5,1917.8 1667.2,1882.8 1692.0,1902.4 1716.7,1872.0 1741.4,1907.9 1766.1,1865.4 1790.8,1863.9 1815.5,1941.8 1840.2,1812.0 1864.9,1940.6 1889.6,1925.3 1914.3,1913.7 1939.1,1951.2 1963.8,1799.5 1988.5,1770.7 2013.2,1812.0 2037.9,1706.9 2062.6,1836.0" fill="none" stroke="#2CA66C" stroke-width="2.6" stroke-linejoin="miter" stroke-miterlimit="3"/>
<polyline points="1543.7,1922.1 1568.4,1916.2 1593.1,1849.5 1617.8,1904.7 1642.5,1875.7 1667.2,1869.2 1692.0,1857.6 1716.7,1872.0 1741.4,1837.4 1766.1,1876.6 1790.8,1777.5 1815.5,1859.9 1840.2,1912.8 1864.9,1822.5 1889.6,1907.0 1914.3,1825.4 1939.1,1829.8 1963.8,1877.2 1988.5,1778.3 2013.2,1762.0 2037.9,1880.1 2062.6,1875.9" fill="none" stroke="#1667DC" stroke-width="2.6" stroke-linejoin="miter" stroke-miterlimit="3"/>
<polyline points="1024.8,1965.4 1049.5,2005.9 1074.2,2014.4 1098.9,1945.1 1123.6,2002.0 1148.3,2019.1 1173.0,1985.6 1197.8,1956.0 1222.5,1984.0 1247.2,1929.5 1271.9,1893.7 1296.6,2014.2 1321.3,2011.4 1346.0,1987.5 1370.7,2013.1 1395.4,1986.6 1420.2,2026.4 1444.9,1979.6 1469.6,1949.6 1494.3,1917.8 1519.0,2004.3 1543.7,2016.7 1568.4,2021.1 1593.1,1960.7 1617.8,2026.2 1642.5,1937.4 1667.2,1967.3 1692.0,1982.2 1716.7,1965.0 1741.4,1960.7 1766.1,1947.1 1790.8,1790.3 1815.5,1993.9 1840.2,1988.6 1864.9,2011.7 1889.6,2014.6 1914.3,1882.0 1939.1,2024.2 1963.8,1976.2 1988.5,1887.8" fill="none" stroke="#404040" stroke-width="2.6" stroke-linejoin="miter" stroke-miterlimit="3"/>
<polyline points="1024.8,2009.0 1049.5,2019.1 1074.2,1998.8 1098.9,2008.7 1123.6,1991.1 1148.3,2023.0 1173.0,2016.0 1197.8,2005.9 1222.5,2005.9 1247.2,1995.7 1271.9,1938.9 1296.6,2012.5 1321.3,1991.9 1346.0,1999.0 1370.7,2006.1 1395.4,2013.1 1420.2,2015.8 1444.9,1994.6 1469.6,1984.9 1494.3,1998.7 1519.0,1984.9 1543.7,2044.0 1568.4,2044.0 1593.1,2033.6 1617.8,2015.9 1642.5,2009.3 1667.2,1968.2 1692.0,1998.1 1716.7,1966.9 1741.4,2000.0 1766.1,1948.6 1790.8,1959.3 1815.5,1976.4 1840.2,1932.0 1864.9,2040.5 1889.6,2030.3 1914.3,2016.5 1939.1,2022.2 1963.8,1973.3 1988.5,1902.8" fill="none" stroke="#F0323C" stroke-width="2.6" stroke-linejoin="miter" stroke-miterlimit="3"/>
<line x1="974.70" y1="1496.40" x2="1064.00" y2="1496.40" stroke="#404040" stroke-width="3.0" />
<text x="1071.40" y="1509.40" font-size="39" text-anchor="start" >Station data</text>
<text x="1375.00" y="1509.40" font-size="39" text-anchor="start" >RMSE (mm)</text>
<line x1="974.70" y1="1544.80" x2="1064.00" y2="1544.80" stroke="#F0323C" stroke-width="2.3" />
<text x="1071.40" y="1557.80" font-size="39" text-anchor="start" >CMFD</text>
<text x="1366.00" y="1557.80" font-size="39" text-anchor="start" >24.62</text>
<line x1="974.70" y1="1593.20" x2="1064.00" y2="1593.20" stroke="#1667DC" stroke-width="2.6" />
<text x="1071.40" y="1606.20" font-size="39" text-anchor="start" >GLDAS</text>
<text x="1364.00" y="1606.20" font-size="39" text-anchor="start" >54.18</text>
<line x1="974.70" y1="1641.60" x2="1064.00" y2="1641.60" stroke="#2CA66C" stroke-width="2.3" />
<text x="1071.40" y="1654.60" font-size="39" text-anchor="start" >GPM</text>
<text x="1360.00" y="1654.60" font-size="39" text-anchor="start" >47.56</text>
<line x1="974.70" y1="1690.00" x2="1064.00" y2="1690.00" stroke="#A474D8" stroke-width="2.0" />
<text x="1071.40" y="1703.00" font-size="39" text-anchor="start" >CRU</text>
<text x="1356.00" y="1703.00" font-size="39" text-anchor="start" >27.61</text>
<line x1="974.70" y1="1738.40" x2="1064.00" y2="1738.40" stroke="#C8960A" stroke-width="2.3" />
<text x="1071.40" y="1751.40" font-size="39" text-anchor="start" >TRMM</text>
<text x="1356.00" y="1751.40" font-size="39" text-anchor="start" >40.15</text>
<text x="1929.40" y="1523.40" font-size="39" text-anchor="start" >(f) 52707</text>
<text x="0" y="0" font-size="39" text-anchor="middle" transform="translate(824.8,323.2) rotate(-90)">Precipitation (mm)</text>
<text x="0" y="0" font-size="39" text-anchor="middle" transform="translate(832.6,1039.2) rotate(-90)">Precipitation (mm)</text>
<text x="0" y="0" font-size="39" text-anchor="middle" transform="translate(841.2,1783.8) rotate(-90)">Precipitation (mm)</text>
<text x="1527.50" y="716.00" font-size="39" text-anchor="middle" >year</text>
<text x="1535.50" y="1432.00" font-size="39" text-anchor="middle" >year</text>
<text x="1551.50" y="2169.00" font-size="39" text-anchor="middle" >year</text>
</svg></body></html>
